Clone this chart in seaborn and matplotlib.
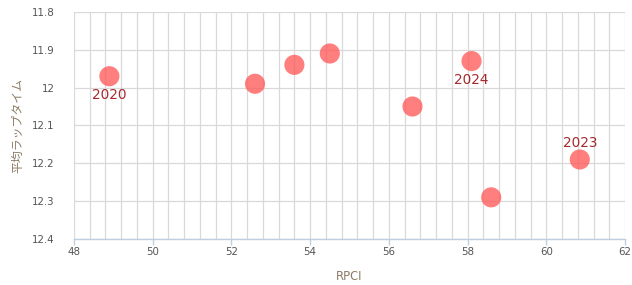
import matplotlib
matplotlib.use("Agg")
import matplotlib.pyplot as plt
import seaborn as sns
import pandas as pd
from matplotlib.ticker import MultipleLocator

rpci = [48.9, 52.6, 53.6, 54.5, 56.6, 58.1, 58.6, 60.85]
lap = [11.97, 11.99, 11.94, 11.91, 12.05, 11.93, 12.29, 12.19]
years = ["2020", "", "", "", "", "2024", "", "2023"]
label_pos = ["below", "", "", "", "", "below", "", "above"]

df = pd.DataFrame({"RPCI": rpci, "lap": lap})

sns.set_theme(style="white")
plt.rcParams['font.family'] = ['DejaVu Sans', 'Noto Sans CJK JP']

fig = plt.figure(figsize=(6.32, 2.85), dpi=100)
ax = fig.add_axes([0.117, 0.1614, 0.872, 0.797])

sns.scatterplot(data=df, x="RPCI", y="lap", ax=ax, s=210, color="#ff5a5a",
                alpha=0.78, edgecolor="none", zorder=3, legend=False)

for x, y, t, p in zip(rpci, lap, years, label_pos):
    if not t:
        continue
    dy = 0.05 if p == "below" else -0.044
    ax.text(x, y + dy, t, ha="center", va="center", fontsize=9.8,
            color="#a52a2e", zorder=4)

ax.set_xlim(48, 62)
ax.set_ylim(12.4, 11.8)
ax.xaxis.set_major_locator(MultipleLocator(2))
ax.xaxis.set_minor_locator(MultipleLocator(0.4))
ax.set_yticks([11.8, 11.9, 12.0, 12.1, 12.2, 12.3, 12.4])
ax.set_yticklabels(["11.8", "11.9", "12", "12.1", "12.2", "12.3", "12.4"])

ax.grid(True, which="major", color="#d9d9d9", linewidth=0.9)
ax.grid(True, which="minor", axis="x", color="#d9d9d9", linewidth=0.9)
ax.set_axisbelow(True)

for s in ["top", "right", "left"]:
    ax.spines[s].set_visible(False)
ax.spines["bottom"].set_color("#c0cfe0")
ax.spines["bottom"].set_linewidth(1.0)

ax.tick_params(axis="x", which="major", length=4, color="#c0cfe0", width=1,
               labelsize=7.4, labelcolor="#555555", pad=2, bottom=True)
ax.tick_params(axis="x", which="minor", length=0)
ax.tick_params(axis="y", length=0, labelsize=7.4, labelcolor="#555555", pad=14)

ax.set_xlabel("RPCI", fontsize=8.3, color="#8c7b66", labelpad=9)
ax.set_ylabel("平均ラップタイム", fontsize=8.6, color="#8c7b66", labelpad=5,
              family=['Noto Sans CJK JP', 'DejaVu Sans'])

fig.savefig("out.png", dpi=100)
